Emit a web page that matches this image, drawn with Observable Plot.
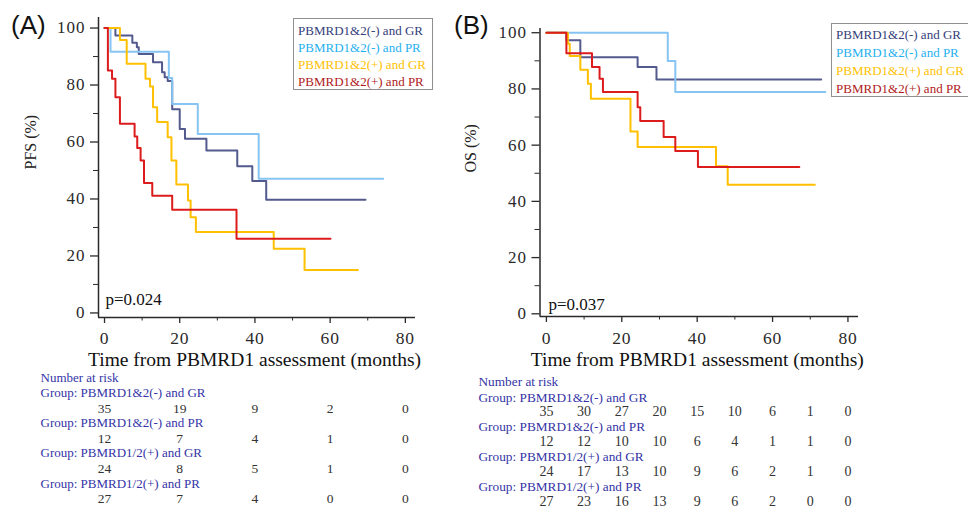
<!DOCTYPE html>
<html>
<head>
<meta charset="utf-8">
<script src="https://cdn.jsdelivr.net/npm/d3@7"></script>
<script src="https://cdn.jsdelivr.net/npm/@observablehq/plot@0.6"></script>
<style>
  html, body { margin: 0; padding: 0; background: #fff; }
  #root { position: relative; width: 968px; height: 510px; overflow: hidden; background: #fff; }
  .panel { position: absolute; top: 0; }
  .tag { position: absolute; font-family: "Liberation Sans", Arial, sans-serif; font-size: 26px; color: #111; line-height: 1; }
  .legend { position: absolute; border: 1px solid #8f8f8f; background: #fff; font-family: "Liberation Serif", serif; font-size: 13px; white-space: nowrap; box-sizing: border-box; }
  .legend div { padding-left: 4px; }
  svg text { font-family: "Liberation Serif", serif; }
  svg g[aria-label="y-axis tick label"] text { letter-spacing: 1px; }
  svg g[aria-label="x-axis tick label"] text { letter-spacing: 0.8px; }
</style>
</head>
<body>
<div id="root"></div>
<script>
// ---------- data ----------
const groupNames = ["PBMRD1&2(-) and GR", "PBMRD1&2(-) and PR", "PBMRD1&2(+) and GR", "PBMRD1&2(+) and PR"];
const riskGroupNames = ["Group: PBMRD1&2(-) and GR", "Group: PBMRD1&2(-) and PR", "Group: PBMRD1/2(+) and GR", "Group: PBMRD1/2(+) and PR"];

// Panel A: PFS (%) step curves (time in months, survival in %)
const pfsT_GRneg = [0, 2.9, 7.4, 8.6, 9.1, 12.9, 15.3, 16, 16.8, 18, 20, 21.4, 27.1, 35.3, 39.3, 43, 69.4];
const pfsS_GRneg = [100, 97.4, 94.8, 93.3, 90.9, 88, 84.5, 82.7, 81.4, 71.5, 64.6, 61.1, 57, 51.5, 46.3, 39.7, 39.7];
const pfsT_PRneg = [0, 1.6, 17.1, 18, 24.8, 41, 74.1];
const pfsS_PRneg = [100, 91.7, 82.5, 73.3, 62.8, 47.1, 47.1];
const pfsT_GRpos = [0, 4.1, 5.9, 10.9, 12.1, 12.9, 14, 16.8, 17.8, 19.1, 22.2, 22.9, 24.3, 45, 53.2, 67.4];
const pfsS_GRpos = [100, 95.8, 87.5, 82.2, 79.5, 72.2, 67, 61.7, 53.5, 45.1, 39.5, 33.6, 28.4, 22.5, 15.1, 15.1];
const pfsT_PRpos = [0, 0.9, 2, 2.9, 4.1, 8, 8.7, 9.6, 10.5, 12.7, 18, 35.1, 60.1];
const pfsS_PRpos = [100, 85.1, 82.2, 75.7, 66.4, 61.9, 57.9, 53.5, 45.6, 41.1, 36.2, 26, 26];

// Panel B: OS (%)
const osT_GRneg = [0, 5.3, 9, 24.2, 29.2, 72.9];
const osS_GRneg = [100, 97.3, 91.3, 87.8, 83.4, 83.4];
const osT_PRneg = [0, 32.2, 34.2, 74];
const osS_PRneg = [100, 89.9, 78.9, 78.9];
const osT_GRpos = [0, 5.7, 6.2, 9, 11, 11.8, 22.3, 24.2, 45, 48.1, 71.2];
const osS_GRpos = [100, 96.1, 91.7, 86.8, 81.8, 76.5, 64.9, 59.3, 52.5, 45.9, 45.9];
const osT_PRpos = [0, 5.3, 12.1, 14.1, 15, 24.2, 24.9, 31.1, 34.2, 40.2, 67.1];
const osS_PRpos = [100, 92.7, 87.8, 83.6, 78.9, 73.5, 68.6, 62.9, 57.9, 52.2, 52.2];

// axis ticks
const xTicks = [0, 20, 40, 60, 80];
const xMinorTicks = [10, 30, 50, 70];
const yTicks = [0, 20, 40, 60, 80, 100];
const yMinorTicks = [10, 30, 50, 70, 90];

// numbers at risk
const riskTimesA = [0, 20, 40, 60, 80];
const riskA_GRneg = [35, 19, 9, 2, 0];
const riskA_PRneg = [12, 7, 4, 1, 0];
const riskA_GRpos = [24, 8, 5, 1, 0];
const riskA_PRpos = [27, 7, 4, 0, 0];
const riskTimesB = [0, 10, 20, 30, 40, 50, 60, 70, 80];
const riskB_GRneg = [35, 30, 27, 20, 15, 10, 6, 1, 0];
const riskB_PRneg = [12, 12, 10, 10, 6, 4, 1, 1, 0];
const riskB_GRpos = [24, 17, 13, 10, 9, 6, 2, 1, 0];
const riskB_PRpos = [27, 23, 16, 13, 9, 6, 2, 0, 0];

// ---------- styles ----------
const lineColors = ["#535a8e", "#86c5f3", "#ffc000", "#dc1c1c"];
const legendColors = ["#34407a", "#1fb0f0", "#ffbf00", "#b01a1a"];
const riskBlue = "#3434a6";
const axisColor = "#2a2a2a";

function toRows(T, S) { return T.map((t, i) => ({t, s: S[i]})); }

function panel(c) {
  const marks = [];
  c.series.forEach(([T, S], i) => {
    marks.push(Plot.line(toRows(T, S), {x: "t", y: "s", curve: "step-after", stroke: lineColors[i], strokeWidth: 2}));
  });
  marks.push(
    Plot.ruleX([c.xDom[0]], {stroke: axisColor, strokeWidth: 1.5}),
    Plot.ruleY([c.yDom[0]], {stroke: axisColor, strokeWidth: 1.5}),
    Plot.axisX({ticks: xTicks, tickSize: 6, tickPadding: c.xPad, fontSize: 17.5, label: null, strokeWidth: 1.3}),
    Plot.axisX({ticks: xMinorTicks, tickSize: 3.5, tickFormat: () => "", label: null, strokeWidth: 1}),
    Plot.axisY({ticks: yTicks, tickSize: 8, tickPadding: 5, fontSize: 17, label: null, strokeWidth: 1.3}),
    Plot.axisY({ticks: yMinorTicks, tickSize: 5, tickFormat: () => "", label: null, strokeWidth: 1}),
    Plot.text([c.yTitle], {frameAnchor: "left", rotate: -90, dx: c.yTitleDx, dy: c.yTitleDy, fontFamily: "Liberation Sans", fontSize: 16, fill: "#222"}),
    Plot.text([c.xTitle], {frameAnchor: "bottom", dx: c.xTitleDx, dy: c.xTitleDy, fontSize: 19.5, fill: "#111"}),
    Plot.text([c.pText], {frameAnchor: "bottom-left", textAnchor: "start", lineAnchor: "bottom", dx: c.pDx, dy: c.pDy, fontSize: 17, fill: "#111"}),
    Plot.text(["Number at risk"], {frameAnchor: "bottom-left", textAnchor: "start", dx: c.labDx, dy: c.nDy, fontSize: c.labFont, fill: riskBlue})
  );
  c.risk.forEach((counts, i) => {
    marks.push(
      Plot.text([riskGroupNames[i]], {frameAnchor: "bottom-left", textAnchor: "start", dx: c.labDx, dy: c.labDy[i], fontSize: c.labFont, fill: riskBlue}),
      Plot.text(counts, {x: c.riskTimes, text: d => String(d), frameAnchor: "bottom", dy: c.numDy[i], fontSize: c.numFont, fill: "#333"})
    );
  });
  return Plot.plot({
    width: c.width, height: 510,
    marginLeft: c.mL, marginRight: c.mR, marginTop: c.mT, marginBottom: c.mB,
    x: {domain: c.xDom, label: null},
    y: {domain: c.yDom, label: null},
    style: {fontFamily: "'Liberation Serif', serif", background: "transparent", color: axisColor, overflow: "visible"},
    marks
  });
}

const root = document.getElementById("root");

const A = panel({
  width: 450, mL: 98, mR: 35, mT: 17, mB: 193,
  xDom: [-1.6, 82.7], yDom: [-1.6, 103.7], xPad: 8,
  series: [[pfsT_GRneg, pfsS_GRneg], [pfsT_PRneg, pfsS_PRneg], [pfsT_GRpos, pfsS_GRpos], [pfsT_PRpos, pfsS_PRpos]],
  yTitle: "PFS (%)", yTitleDx: -68, yTitleDy: 2,
  xTitle: "Time from PBMRD1 assessment (months)", xTitleDx: -2.5, xTitleDy: 48,
  pText: "p=0.024", pDx: 7, pDy: -13,
  riskTimes: riskTimesA, risk: [riskA_GRneg, riskA_PRneg, riskA_GRpos, riskA_PRpos],
  labDx: -58, nDy: 64, labDy: [79, 109, 139, 170], numDy: [95, 125, 155, 185], labFont: 13, numFont: 13.5
});
A.classList.add("panel"); A.style.left = "0px";
root.appendChild(A);

const B = panel({
  width: 513, mL: 84.5, mR: 110, mT: 28, mB: 194,
  xDom: [-1.7, 82.8], yDom: [-0.96, 101.5], xPad: 9,
  series: [[osT_GRneg, osS_GRneg], [osT_PRneg, osS_PRneg], [osT_GRpos, osS_GRpos], [osT_PRpos, osS_PRpos]],
  yTitle: "OS (%)", yTitleDx: -69.5, yTitleDy: 0,
  xTitle: "Time from PBMRD1 assessment (months)", xTitleDx: -2, xTitleDy: 49,
  pText: "p=0.037", pDx: 8.5, pDy: -7,
  riskTimes: riskTimesB, risk: [riskB_GRneg, riskB_PRneg, riskB_GRpos, riskB_PRpos],
  labDx: -61.5, nDy: 69, labDy: [85, 114, 144, 174], numDy: [99, 129, 159, 189], labFont: 13.3, numFont: 14
});
B.classList.add("panel"); B.style.left = "455px";
root.appendChild(B);

// panel tags
function tag(text, left, top) {
  const d = document.createElement("div");
  d.className = "tag"; d.textContent = text;
  d.style.left = left + "px"; d.style.top = top + "px";
  root.appendChild(d);
}
tag("(A)", 11, 12);
tag("(B)", 454, 12);

// legends
function legend(left, top, width, height, lineH, padTop) {
  const box = document.createElement("div");
  box.className = "legend";
  Object.assign(box.style, {left: left + "px", top: top + "px", width: width + "px", height: height + "px", paddingTop: padTop + "px", lineHeight: lineH + "px"});
  groupNames.forEach((name, i) => {
    const r = document.createElement("div");
    r.textContent = name; r.style.color = legendColors[i];
    box.appendChild(r);
  });
  root.appendChild(box);
}
legend(293, 18, 140, 72, 17.3, 2.5);
legend(831, 23, 140, 74, 18.3, 1.5);
</script>
</body>
</html>
